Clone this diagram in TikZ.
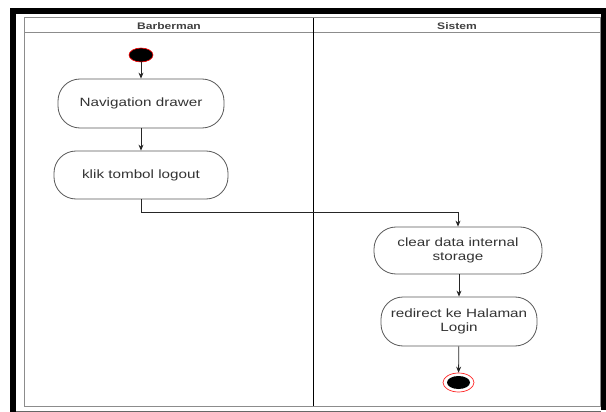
\documentclass[tikz,border=0pt]{standalone}
\usepackage{fontspec}
\setmainfont{Liberation Sans}
\newfontfamily\labfont[FakeStretch=1.27]{Liberation Sans}
\usetikzlibrary{arrows.meta,shapes.geometric}
\begin{document}
\begin{tikzpicture}[x=1pt,y=-1pt,
  act/.style={draw=black!65, line width=0.8pt, rounded corners=22pt, inner sep=0pt,
    font=\labfont\fontsize{12}{13.5}\selectfont, text=black!80, align=center},
  lanehead/.style={font=\labfont\bfseries\fontsize{9.5}{11}\selectfont, text=black!75},
  flow/.style={draw=black!85, line width=0.8pt, -{Stealth[length=6pt,width=5pt]}},
  frameline/.style={draw=black!45, line width=1pt}]
\useasboundingbox (0,0) rectangle (606,412);
\fill[white] (0,0) rectangle (606,412);
% outer black border
\fill[black] (10,8) rectangle (606,14);
\fill[black] (10,8) rectangle (16,412);
\fill[black] (601,8) rectangle (606,410);
\draw[black!60, line width=1pt] (16,411) -- (601,411);
% swimlane frame
\draw[frameline] (24,18) rectangle (600,406);
\draw[frameline] (24,33) -- (600,33);
\draw[black, line width=0.8pt] (313,18) -- (313,406);
\node[lanehead] (h1) at (169,26) {Barberman};
\node[lanehead] (h2) at (457,26) {Sistem};
% nodes
\node[ellipse, fill=black, draw=red, line width=0.6pt, minimum width=24pt, minimum height=14pt, inner sep=0pt] (start) at (141,55) {};
\node[act, minimum width=166pt, minimum height=49pt] (nav) at (141,103.5) {Navigation drawer};
\node[act, minimum width=174pt, minimum height=48pt] (klik) at (141,175) {klik tombol logout};
\node[act, minimum width=168pt, minimum height=47pt] (clear) at (458,250.5) {clear data internal\\storage};
\node[act, minimum width=156pt, minimum height=49pt] (redir) at (459,321.5) {redirect ke Halaman\\Login};
\node[ellipse, draw=red!85, fill=white, line width=0.7pt, minimum width=31pt, minimum height=19pt, inner sep=0pt] (end) at (458.5,382.5) {};
\node[ellipse, fill=black, minimum width=23pt, minimum height=13pt, inner sep=0pt] (endin) at (end.center) {};
% connectors
\draw[flow] (start) -- (nav);
\draw[flow] (nav) -- (klik);
\draw[flow] (klik.south) -- ++(0,13) -| (clear.north);
\draw[flow] (clear.south -| redir.north) -- (redir.north);
\draw[flow] (redir) -- (end);
\end{tikzpicture}
\end{document}
